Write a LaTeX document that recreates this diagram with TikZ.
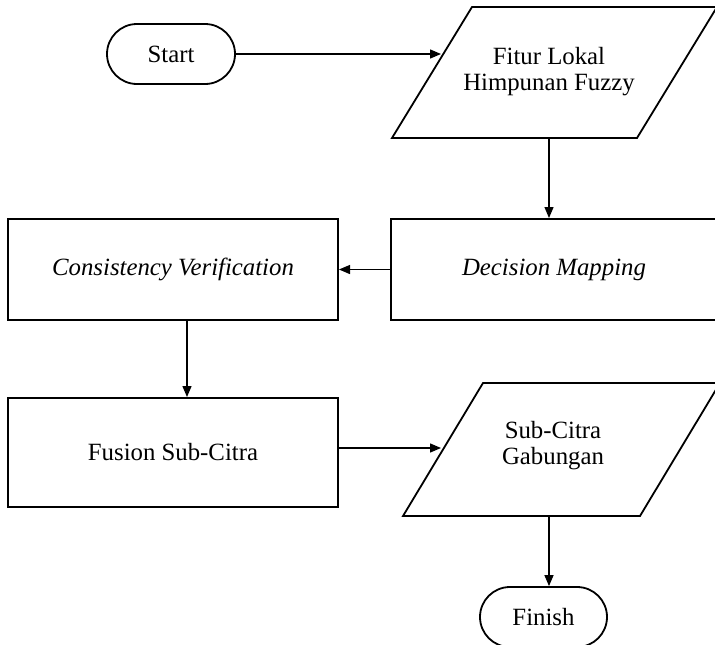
\documentclass[tikz,border=0pt]{standalone}
\usepackage{fontspec}
\setmainfont{Liberation Serif}
\usetikzlibrary{arrows.meta,calc}
\begin{document}
\begin{tikzpicture}[x=1pt,y=-1pt,
  txt/.style={font=\fontsize{24.8}{26}\selectfont},
  box/.style={txt,draw,line width=2pt,rectangle,inner sep=0pt},
  term/.style={txt,draw,line width=1.8pt,rectangle,rounded corners=30pt,inner sep=0pt,minimum height=60pt},
  io/.style={line width=1.8pt,line join=miter},
  lbl/.style={txt,align=center,inner sep=0pt},
  arr/.style={line width=1.3pt,-{Triangle[length=11pt,width=9pt]}}]
\useasboundingbox (0,0) rectangle (715,645);
\clip (0,0) rectangle (715,645);
\fill[white] (0,0) rectangle (715,645);

% nodes
\node[term,minimum width=128pt] (start) at (171,54) {Start};

\draw[io] (472,7) -- (717,7) -- (637,138) -- (392,138) -- cycle;
\node[lbl] (p1) at (549,72) {Fitur Lokal\\Himpunan Fuzzy};
\coordinate (p1in) at (441,54);
\coordinate (p1out) at (549,138);

\node[box,minimum width=326pt,minimum height=101pt] (dec) at (554,269.5) {\itshape Decision Mapping};
\node[box,minimum width=330pt,minimum height=101pt] (cons) at (173,269.5) {\itshape Consistency Verification};
\node[box,minimum width=330pt,minimum height=109pt] (fus) at (173,452.5) {Fusion Sub-Citra};

\draw[io] (483,383) -- (720,383) -- (640,516) -- (403,516) -- cycle;
\node[lbl] (p2) at (553,446) {Sub-Citra\\Gabungan};
\coordinate (p2in) at (441,448);
\coordinate (p2out) at (549,516);

\node[term,minimum width=127pt] (fin) at (543.5,617) {Finish};

% connectors
\draw[arr] (start) -- (p1in);
\draw[arr] (p1out) -- (p1out |- dec.north);
\draw[arr] (dec) -- (cons);
\draw[arr] ([xshift=14pt]cons.south) -- ([xshift=14pt]cons.south |- fus.north);
\draw[arr] ([yshift=4.5pt]fus.east) -- (p2in);
\draw[arr] (p2out) -- (p2out |- fin.north);
\end{tikzpicture}
\end{document}
